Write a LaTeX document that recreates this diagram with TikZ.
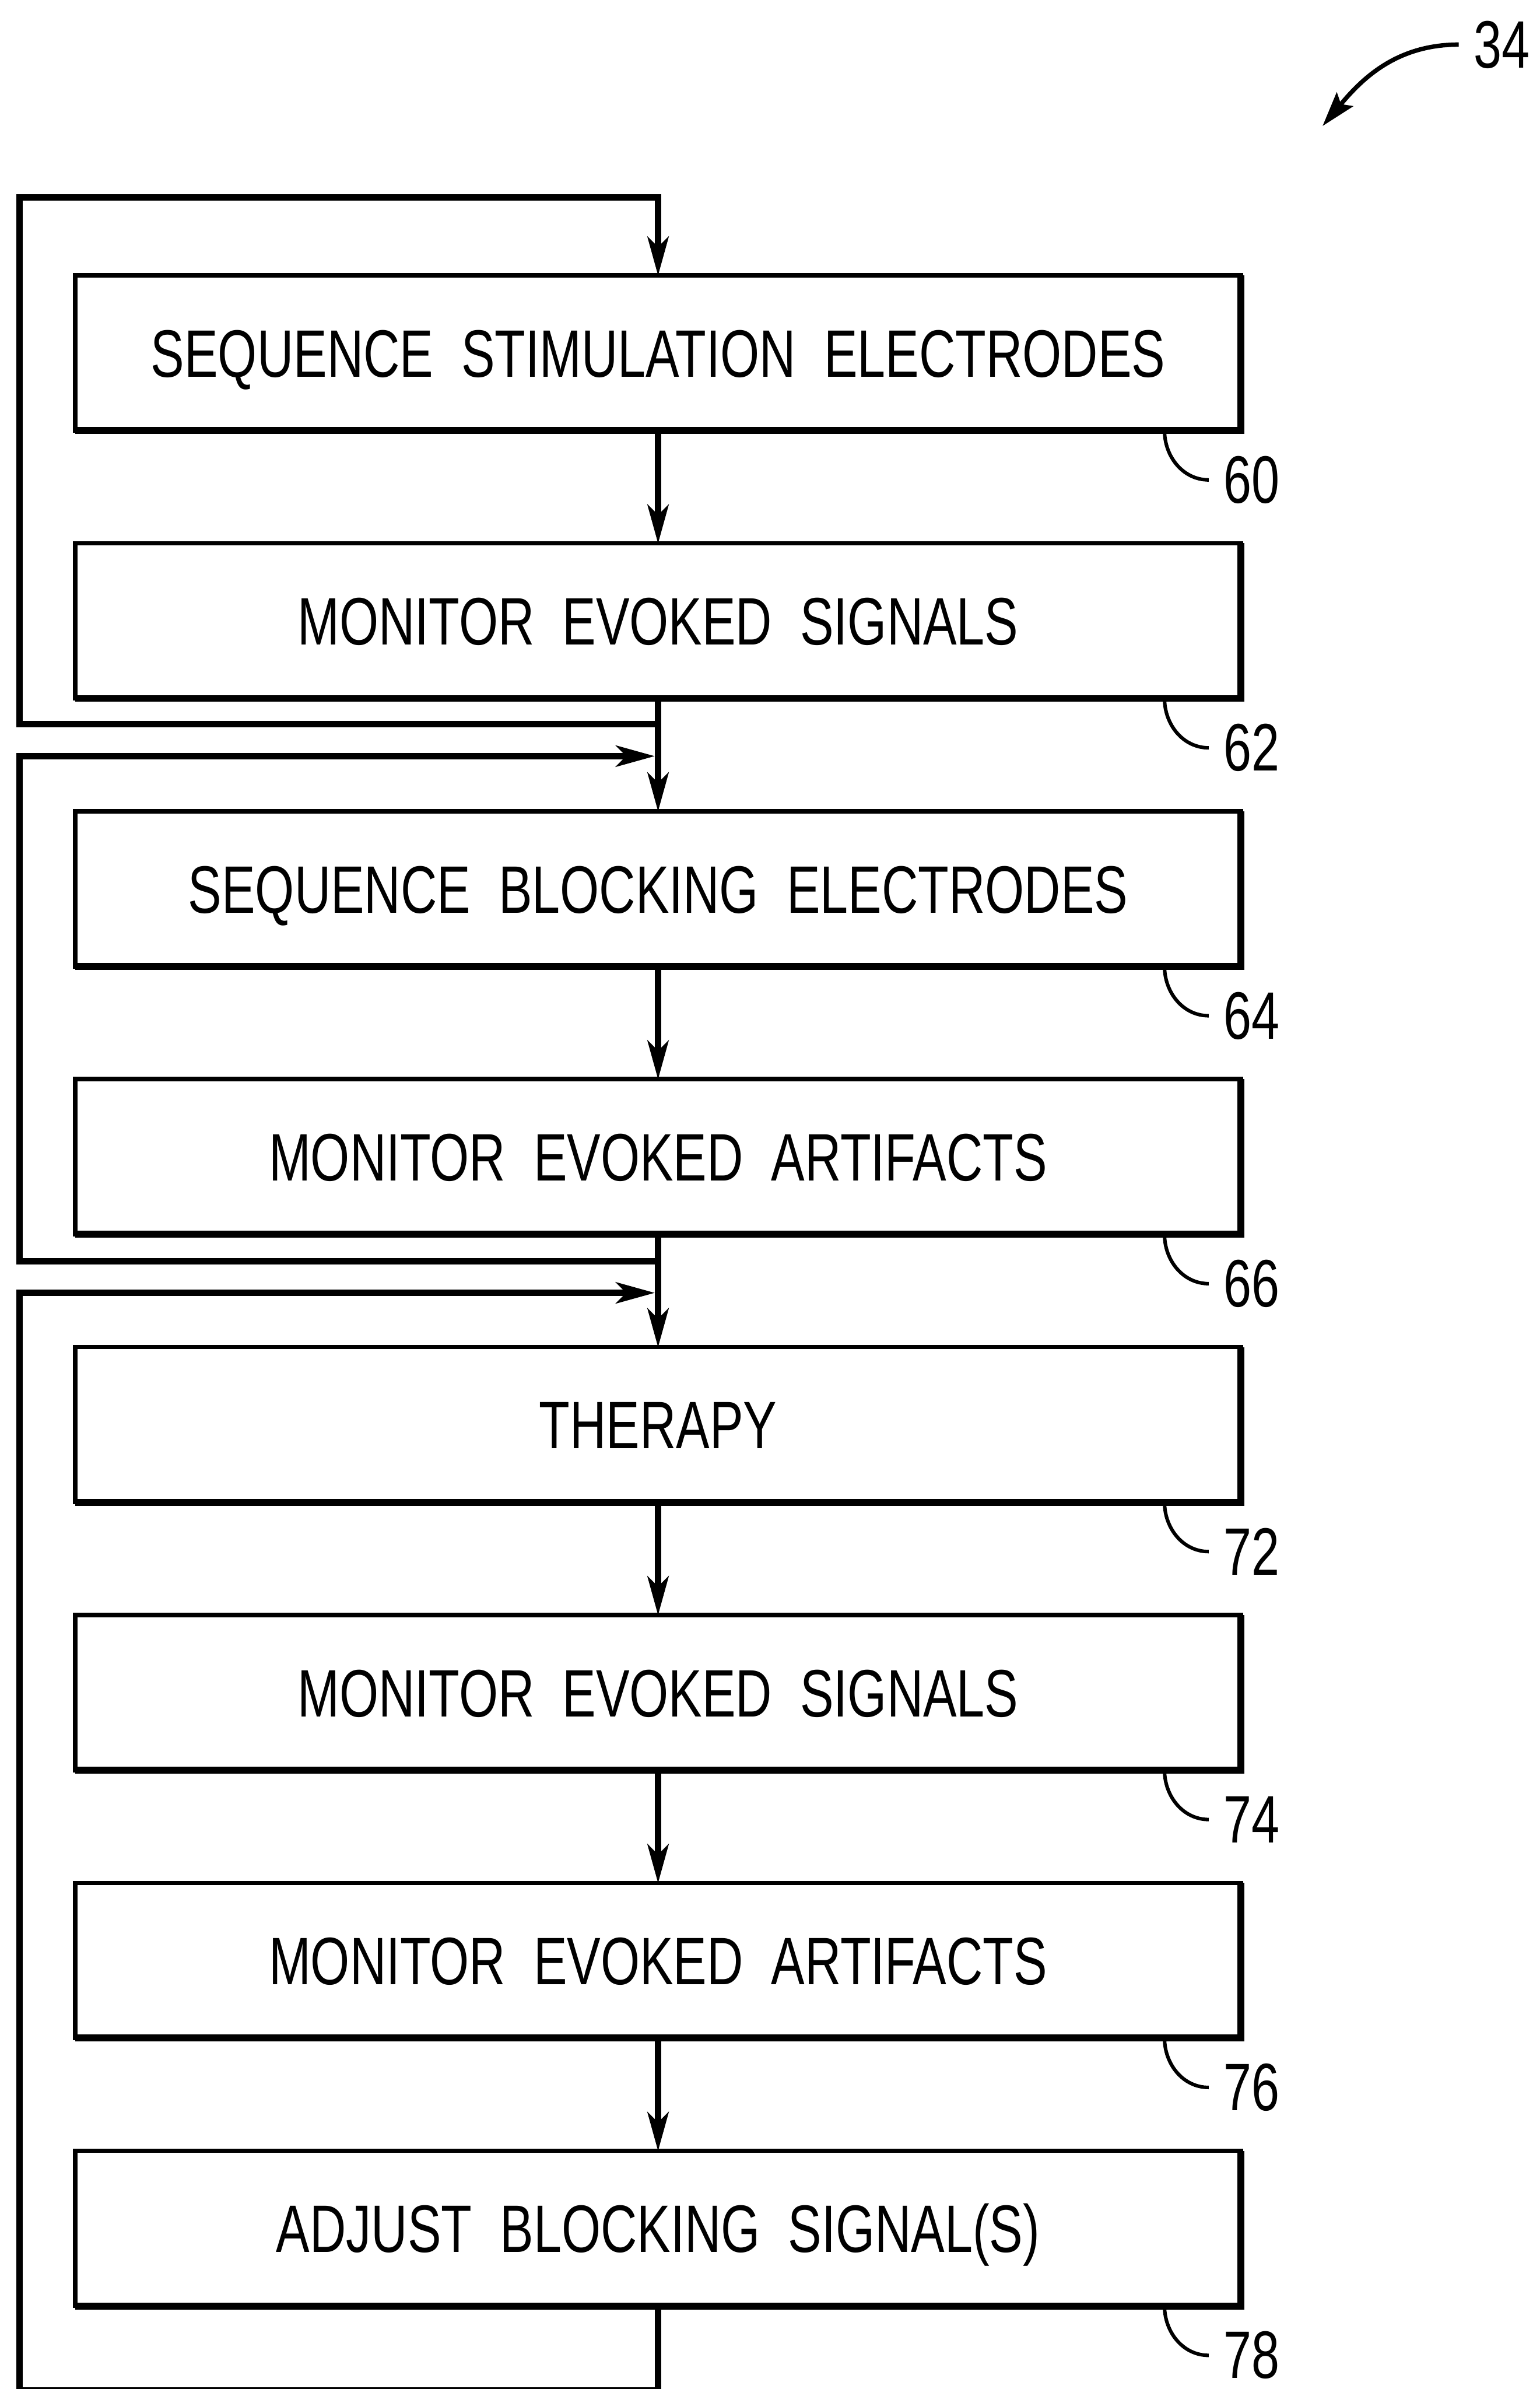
\documentclass[tikz,border=0pt]{standalone}
\usepackage{fontspec}
\newfontfamily\patentfont{Liberation Sans}[FakeStretch=0.75]
\usetikzlibrary{arrows.meta}

\begin{document}
\begin{tikzpicture}[
    every node/.style={font=\patentfont\fontsize{43.7pt}{52pt}\selectfont},
    stepbox/.style={draw, line width=2.85pt, minimum width=26.68cm, minimum height=3.55cm, inner sep=0pt, outer sep=0pt, text height=1.1cm, text depth=0pt},
    shadowedge/.style={line width=4.55pt},
    flow/.style={line width=4.27pt, -{Stealth[length=9mm, width=5mm, inset=2.5mm, line width=0.5pt]}},
    lead/.style={line width=2.3pt},
    refnum/.style={inner xsep=0.34cm, inner ysep=0pt}
]
    \useasboundingbox (0,0) rectangle (35.23,-54.66);

    % steps
    \node[stepbox] (stimseq) at (15.06, -8.075) {SEQUENCE~~STIMULATION~~ELECTRODES};
    \node[stepbox] (stimmon) at (15.06, -14.205) {MONITOR~~EVOKED~~SIGNALS};
    \node[stepbox] (blockseq) at (15.06, -20.335) {SEQUENCE~~BLOCKING~~ELECTRODES};
    \node[stepbox] (blockmon) at (15.06, -26.465) {MONITOR~~EVOKED~~ARTIFACTS};
    \node[stepbox] (therapy) at (15.06, -32.595) {THERAPY};
    \node[stepbox] (sigmon) at (15.06, -38.725) {MONITOR~~EVOKED~~SIGNALS};
    \node[stepbox] (artmon) at (15.06, -44.855) {MONITOR~~EVOKED~~ARTIFACTS};
    \node[stepbox] (adjust) at (15.06, -50.985) {ADJUST~~BLOCKING~~SIGNAL(S)};

    \foreach \n in {stimseq, stimmon, blockseq, blockmon, therapy, sigmon, artmon, adjust}
        \draw[shadowedge] (\n.north east) -- (\n.south east) -- (\n.south west);

    % reference numerals
    \node[refnum] (n34) at (34.37, -1.02) {34};
    \node[refnum] (n60) at (28.65, -10.98) {60};
    \node[refnum] (n62) at (28.65, -17.11) {62};
    \node[refnum] (n64) at (28.65, -23.24) {64};
    \node[refnum] (n66) at (28.65, -29.37) {66};
    \node[refnum] (n72) at (28.65, -35.50) {72};
    \node[refnum] (n74) at (28.65, -41.63) {74};
    \node[refnum] (n76) at (28.65, -47.76) {76};
    \node[refnum] (n78) at (28.65, -53.89) {78};

    \coordinate (fig) at (30.27, -2.88);
    \coordinate (join1) at (14.98, -17.30);
    \coordinate (join2) at (14.98, -29.58);

    % main flow
    \draw[flow] (stimseq) -- (stimmon);
    \draw[flow] (stimmon) -- (blockseq);
    \draw[flow] (blockseq) -- (blockmon);
    \draw[flow] (blockmon) -- (therapy);
    \draw[flow] (therapy) -- (sigmon);
    \draw[flow] (sigmon) -- (artmon);
    \draw[flow] (artmon) -- (adjust);

    % loops back
    \draw[flow] ([yshift=-0.59cm]stimmon.south) -| (0.45, -4.52) -| (stimseq.north);
    \draw[flow] ([yshift=-0.62cm]blockmon.south) -| (0.45, -17.30) -- (join1);
    \draw[flow] (adjust.south) -- ++(0, -1.94) -| (0.45, -29.58) -- (join2);

    % leaders
    \draw[line width=2.85pt, -{Stealth[length=8mm, width=5mm, inset=1.5mm, line width=0.5pt]}] (n34.west) to[out=180, in=50] (fig);
    \draw[lead] ([xshift=-1.75cm]stimseq.south east) to[out=-90, in=180] (n60.west);
    \draw[lead] ([xshift=-1.75cm]stimmon.south east) to[out=-90, in=180] (n62.west);
    \draw[lead] ([xshift=-1.75cm]blockseq.south east) to[out=-90, in=180] (n64.west);
    \draw[lead] ([xshift=-1.75cm]blockmon.south east) to[out=-90, in=180] (n66.west);
    \draw[lead] ([xshift=-1.75cm]therapy.south east) to[out=-90, in=180] (n72.west);
    \draw[lead] ([xshift=-1.75cm]sigmon.south east) to[out=-90, in=180] (n74.west);
    \draw[lead] ([xshift=-1.75cm]artmon.south east) to[out=-90, in=180] (n76.west);
    \draw[lead] ([xshift=-1.75cm]adjust.south east) to[out=-90, in=180] (n78.west);
\end{tikzpicture}
\end{document}
